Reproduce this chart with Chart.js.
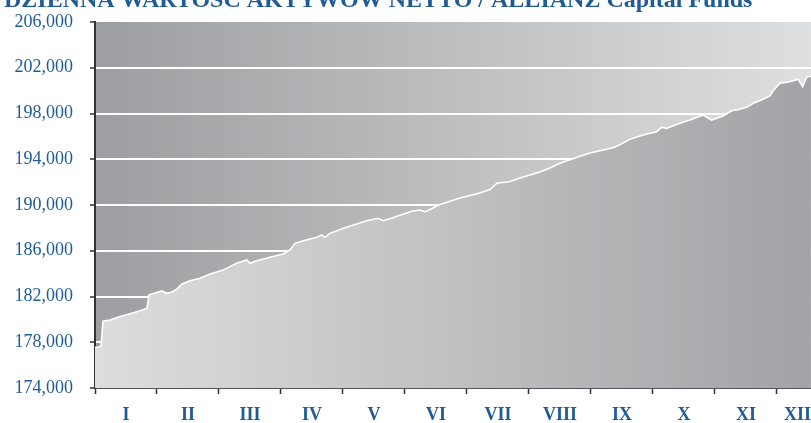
<!DOCTYPE html>
<html>
<head>
<meta charset="utf-8">
<script src="https://cdn.jsdelivr.net/npm/chart.js@4/dist/chart.umd.min.js"></script>
<style>
html,body{margin:0;padding:0;background:#fff;overflow:hidden;}
canvas{display:block;}
</style>
</head>
<body>
<canvas id="c" width="811" height="423"></canvas>
<script>
const chartTitle = 'DZIENNA WARTOŚĆ AKTYWÓW NETTO / ALLIANZ Capital Funds';
const monthLabels = ['I','II','III','IV','V','VI','VII','VIII','IX','X','XI','XII'];
const yTicks = [174000,178000,182000,186000,190000,194000,198000,202000,206000];
// position along the year, in months from the start of January
const monthPos = [0,0.065,0.097,0.129,0.242,0.403,0.565,0.726,0.839,0.871,0.968,1.076,1.156,1.242,1.318,1.398,1.532,1.694,1.855,2.069,2.177,2.285,2.447,2.5,2.608,2.823,3.037,3.145,3.226,3.36,3.576,3.656,3.71,3.79,4.005,4.221,4.382,4.569,4.65,4.758,4.919,5.113,5.242,5.323,5.435,5.565,5.887,6.21,6.371,6.484,6.694,6.855,7.177,7.339,7.5,7.742,7.984,8.145,8.387,8.629,8.844,9.06,9.14,9.221,9.435,9.597,9.811,9.946,10.134,10.269,10.403,10.511,10.618,10.779,10.887,10.94,11.048,11.21,11.344,11.415,11.479,11.548];
const navValues = [177550,177580,177700,179850,179950,180250,180500,180750,180970,182150,182300,182500,182280,182400,182630,183070,183380,183590,183970,184320,184610,184900,185190,184900,185130,185430,185720,186070,186650,186880,187170,187380,187170,187520,187960,188340,188630,188840,188630,188800,189100,189450,189560,189390,189700,190050,190610,191050,191350,191900,192050,192360,192890,193240,193650,194100,194550,194750,195050,195740,196120,196410,196790,196700,197140,197430,197870,197430,197780,198240,198370,198540,198890,199240,199530,199990,200640,200780,200990,200340,201170,201280];

const blue = '#1f5c96';

const bgPlugin = {
  id: 'bg',
  beforeDraw(chart) {
    const {ctx, chartArea: a} = chart;
    const g = ctx.createLinearGradient(a.left, 0, a.right, 0);
    g.addColorStop(0, 'rgb(157,158,161)');
    g.addColorStop(1, 'rgb(222,223,224)');
    ctx.save();
    ctx.fillStyle = g;
    ctx.fillRect(a.left, a.top, a.right - a.left, a.bottom - a.top);
    ctx.restore();
  },
  afterDraw(chart) {
    const {ctx} = chart;
    const xs = chart.scales.x;
    ctx.save();
    ctx.fillStyle = blue;
    ctx.font = 'bold 18px "Liberation Serif", "DejaVu Serif", serif';
    ctx.textAlign = 'center';
    ctx.textBaseline = 'middle';
    monthLabels.forEach((lab, i) => {
      let cx = xs.getPixelForValue(i + 0.5);
      const w = ctx.measureText(lab).width;
      if (cx + w / 2 > chart.width) cx = chart.width - w / 2;
      ctx.fillText(lab, cx, 415);
    });
    ctx.font = 'bold 24px "Liberation Serif", "DejaVu Serif", serif';
    ctx.textAlign = 'left';
    ctx.textBaseline = 'alphabetic';
    ctx.fillText(chartTitle, 4, 7);
    ctx.restore();
  }
};

new Chart(document.getElementById('c'), {
  type: 'line',
  data: {
    datasets: [{
      data: monthPos.map((x, i) => ({x: x, y: navValues[i]})),
      borderColor: '#ffffff',
      borderWidth: 1.6,
      pointRadius: 0,
      tension: 0,
      fill: 'start',
      backgroundColor(c) {
        const a = c.chart.chartArea;
        if (!a) return 'rgb(200,200,200)';
        const g = c.chart.ctx.createLinearGradient(a.left, 0, a.right, 0);
        g.addColorStop(0, 'rgb(220,221,222)');
        g.addColorStop(1, 'rgb(162,163,166)');
        return g;
      }
    }]
  },
  options: {
    responsive: false,
    animation: false,
    layout: {padding: {top: 22, left: 0, right: 0, bottom: 0}},
    plugins: {legend: {display: false}, tooltip: {enabled: false}, title: {display: false}},
    scales: {
      x: {
        type: 'linear',
        min: 0,
        max: 11.55,
        afterBuildTicks(s) { s.ticks = monthLabels.map((_, i) => ({value: i})); },
        afterFit(s) { s.height = 35; },
        ticks: {callback: () => '', padding: 0},
        grid: {drawOnChartArea: false, tickLength: 6, tickColor: '#333', tickWidth: 1.5},
        border: {color: '#555', width: 2}
      },
      y: {
        min: 174000,
        max: 206000,
        afterBuildTicks(s) { s.ticks = yTicks.map(v => ({value: v})); },
        afterFit(s) { s.width = 95; s.paddingTop = 0; s.paddingBottom = 0; },
        ticks: {
          callback: v => v.toLocaleString('en-US'),
          color: blue,
          padding: 17,
          font: {family: '"Liberation Serif", "DejaVu Serif", serif', size: 18}
        },
        grid: {
          color: c => (c.tick && c.tick.value === 206000) ? 'rgba(0,0,0,0)' : '#ffffff',
          lineWidth: 2,
          tickColor: '#333',
          tickLength: 5,
          tickWidth: 1.5
        },
        border: {color: '#333', width: 2}
      }
    }
  },
  plugins: [bgPlugin]
});
</script>
</body>
</html>
